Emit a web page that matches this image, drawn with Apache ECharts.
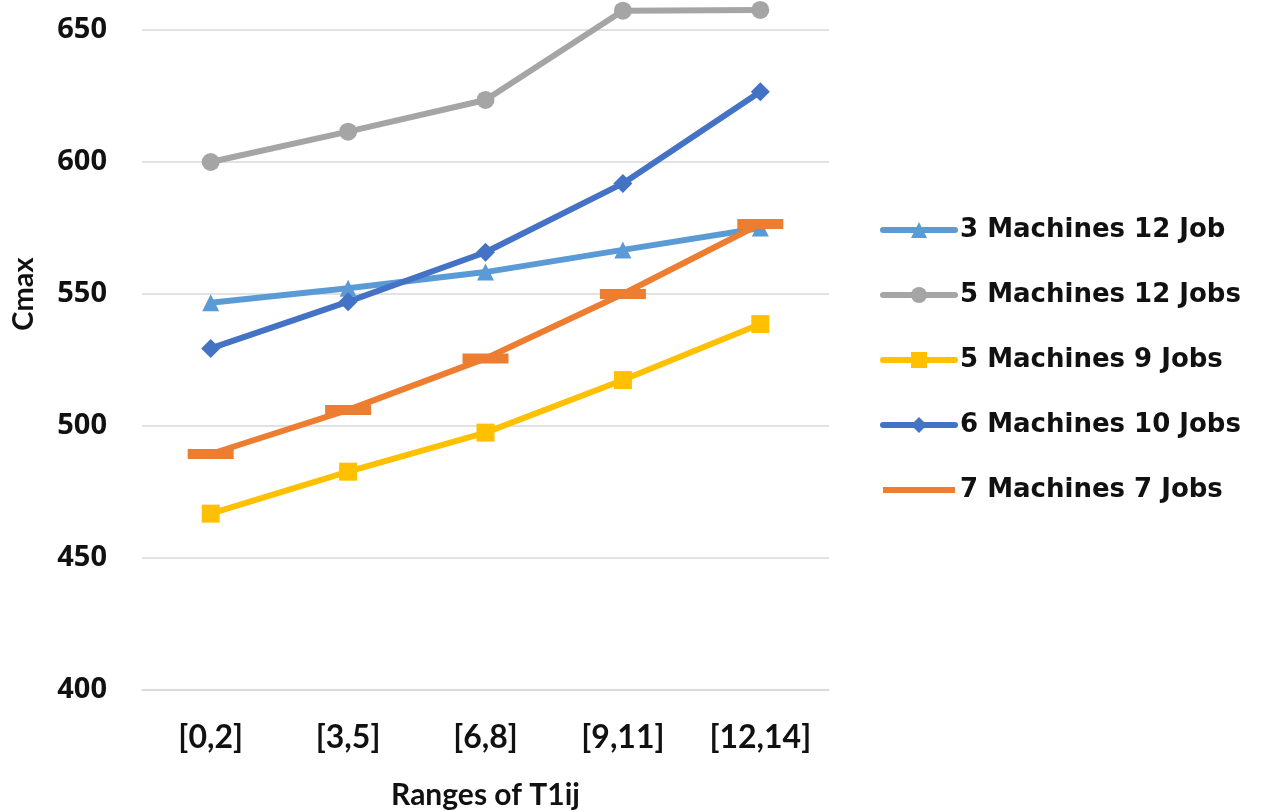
<!DOCTYPE html>
<html>
<head>
<meta charset="utf-8">
<title>Cmax by range of T1ij</title>
<script src="https://cdn.jsdelivr.net/npm/echarts@6/dist/echarts.min.js"></script>
<style>
  html, body { margin: 0; padding: 0; background: #ffffff; }
  #chart { width: 1262px; height: 812px; }
</style>
</head>
<body>
<div id="chart"></div>
<script>
// Ranges of T1ij on the category axis
const categories = ['[0,2]', '[3,5]', '[6,8]', '[9,11]', '[12,14]'];

// Cmax for each machine/job configuration
const m3j12 = [546.7, 552.2, 558.3, 566.7, 575.0];
const m5j12 = [600.0, 611.5, 623.5, 657.3, 657.6];
const m5j9  = [466.8, 482.7, 497.5, 517.4, 538.6];
const m6j10 = [529.4, 547.1, 565.8, 591.9, 626.6];
const m7j7  = [489.4, 506.1, 525.6, 550.0, 576.5];

const seriesNames = [
  '3 Machines 12 Job',
  '5 Machines 12 Jobs',
  '5 Machines 9 Jobs',
  '6 Machines 10 Jobs',
  '7 Machines 7 Jobs'
];

// y axis ticks: 400 .. 700 in steps of 50 (the plot is clipped just above 650)
const yMin = 400;
const yMax = 700;
const yStep = 50;

const chart = echarts.init(document.getElementById('chart'), null, { renderer: 'canvas' });

function lineSeries(name, values, color, symbol, symbolSize) {
  return {
    name: name,
    type: 'line',
    data: values,
    symbol: symbol,
    symbolSize: symbolSize,
    showSymbol: true,
    lineStyle: { color: color, width: 6, cap: 'round', join: 'round' },
    itemStyle: { color: color, borderWidth: 0 },
    emphasis: { disabled: true },
    animation: false
  };
}

const option = {
  backgroundColor: '#ffffff',
  animation: false,
  grid: {
    left: 142, right: 433, top: -102, bottom: 122,
    containLabel: false,
    outerBoundsMode: 'none'
  },
  xAxis: {
    type: 'category',
    data: categories,
    boundaryGap: true,
    axisLine: { show: true, lineStyle: { color: '#d9d9d9', width: 1.5 } },
    axisTick: { show: false },
    axisLabel: {
      margin: 32,
      color: '#111111',
      fontFamily: 'Lato',
      fontWeight: 'bold',
      fontSize: 32,
      lineHeight: 32
    },
    name: 'Ranges of T1ij',
    nameLocation: 'middle',
    nameGap: 89,
    nameTextStyle: {
      color: '#111111',
      fontFamily: 'Lato',
      fontWeight: 'bold',
      fontSize: 30,
      lineHeight: 32
    }
  },
  yAxis: {
    type: 'value',
    min: yMin,
    max: yMax,
    interval: yStep,
    axisLine: { show: false },
    axisTick: { show: false },
    splitLine: { show: true, lineStyle: { color: '#d9d9d9', width: 1.5 } },
    axisLabel: {
      margin: 35,
      color: '#111111',
      fontFamily: 'Open Sans',
      fontWeight: 'bold',
      fontSize: 29
    },
    name: 'Cmax',
    nameLocation: 'middle',
    nameGap: 104,
    nameTextStyle: {
      color: '#111111',
      fontFamily: 'Lato',
      fontWeight: 'bold',
      fontSize: 29
    }
  },
  legend: {
    orient: 'vertical',
    left: 880,
    top: 215,
    padding: 0,
    itemWidth: 72,
    itemHeight: 20,
    itemGap: 35,
    selectedMode: false,
    lineStyle: { width: 6, cap: 'round' },
    textStyle: {
      color: '#111111',
      fontFamily: 'DejaVu Sans',
      fontWeight: 'bold',
      fontSize: 26,
      lineHeight: 30
    },
    data: [
      { name: seriesNames[0] },
      { name: seriesNames[1] },
      { name: seriesNames[2] },
      { name: seriesNames[3] },
      { name: seriesNames[4], icon: 'path://M0,0H72V6H0Z' }
    ]
  },
  series: [
    lineSeries(seriesNames[0], m3j12, '#5b9bd5', 'triangle', 17),
    lineSeries(seriesNames[1], m5j12, '#a5a5a5', 'circle', 18),
    lineSeries(seriesNames[2], m5j9,  '#ffc000', 'rect', 18),
    lineSeries(seriesNames[3], m6j10, '#4472c4', 'diamond', 19),
    lineSeries(seriesNames[4], m7j7,  '#ed7d31', 'rect', [46, 10])
  ]
};

chart.setOption(option);
</script>
</body>
</html>
